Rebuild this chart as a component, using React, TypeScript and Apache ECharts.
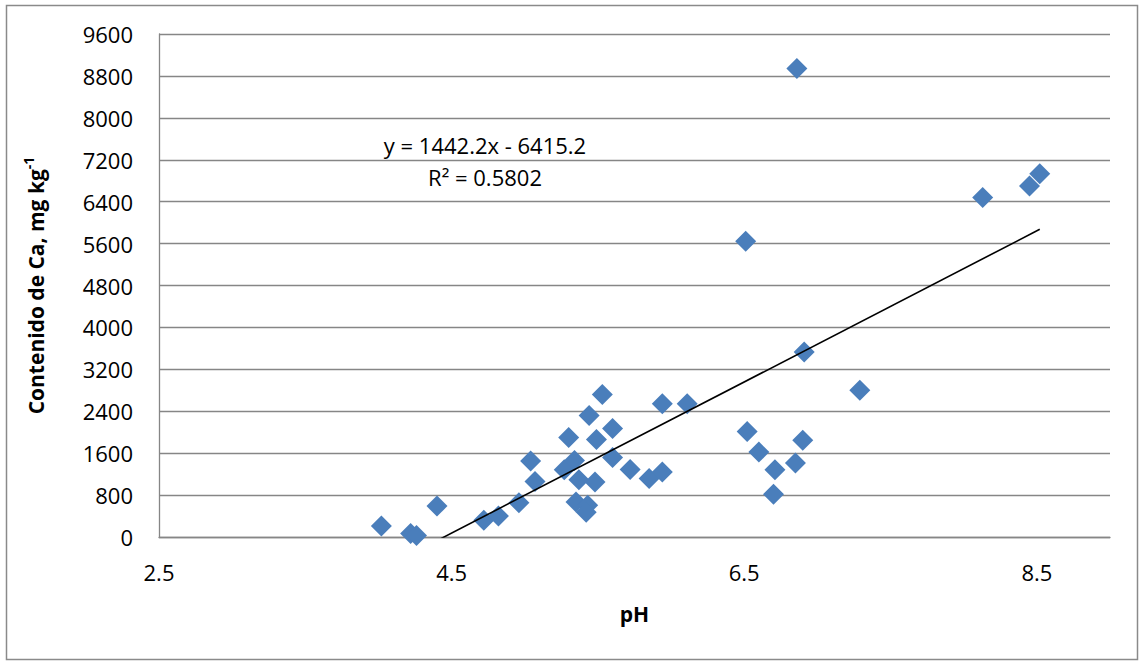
import React, { useEffect, useRef } from "react";
import * as echarts from "echarts";

const xTicks = [2.5, 4.5, 6.5, 8.5];
const yTicksMax = 9600;
const yInterval = 800;

const phValues = [
  4.02, 4.22, 4.26, 4.4, 4.72, 4.82, 4.96, 5.04, 5.07, 5.27,
  5.3, 5.34, 5.37, 5.35, 5.43, 5.42, 5.48, 5.44, 5.49, 5.53,
  5.6, 5.6, 5.72, 5.85, 5.94, 5.94, 6.11, 6.51, 6.52, 6.6,
  6.71, 6.7, 6.85, 6.9, 6.91, 6.86, 7.29, 8.13, 8.45, 8.52,
];
const caValues = [
  210, 65, 30, 590, 320, 400, 655, 1450, 1060, 1285,
  1900, 1460, 1095, 668, 605, 470, 1050, 2320, 1860, 2720,
  2070, 1515, 1290, 1115, 1240, 2545, 2545, 5645, 2015, 1620,
  1285, 815, 1410, 1845, 3530, 8940, 2800, 6480, 6700, 6935,
];

const trendSlope = 1442.2;
const trendIntercept = -6415.2;
const trendR2 = "0.5802";
const equationText = "y = 1442.2x - 6415.2";

const FONT = "'Open Sans', 'Noto Sans', sans-serif";
const GRID_COLOR = "#868686";

export default function App() {
  const ref = useRef<HTMLDivElement>(null);

  useEffect(() => {
    if (!ref.current) return;
    const chart = echarts.init(ref.current, null, { renderer: "svg" });
    const points = phValues.map((x, i) => [x, caValues[i]]);
    const xMinData = Math.min(...phValues);
    const xMaxData = Math.max(...phValues);
    const trend = [
      [xMinData, trendSlope * xMinData + trendIntercept],
      [xMaxData, trendSlope * xMaxData + trendIntercept],
    ];

    chart.setOption({
      animation: false,
      backgroundColor: "#ffffff",
      grid: { left: 159, right: 34, top: 34, bottom: 124, containLabel: false },
      xAxis: {
        type: "value",
        min: 2.5,
        max: 9,
        interval: 2,
        name: "pH",
        nameLocation: "middle",
        nameGap: 66,
        nameTextStyle: { fontFamily: FONT, fontSize: 21, fontWeight: "bold", color: "#000" },
        axisLine: { show: true, lineStyle: { color: GRID_COLOR, width: 1.3 } },
        axisTick: { show: false },
        splitLine: { show: false },
        axisLabel: {
          customValues: xTicks,
          formatter: (v: number) => v.toFixed(1),
          margin: 24,
          fontFamily: FONT,
          fontSize: 22,
          color: "#000",
        },
      },
      yAxis: {
        type: "value",
        min: 0,
        max: yTicksMax,
        interval: yInterval,
        name: "{a|Contenido de Ca, mg kg}{b|-1}",
        nameLocation: "middle",
        nameGap: 108,
        nameRotate: 90,
        nameTextStyle: {
          rich: {
            a: { fontFamily: FONT, fontSize: 21, fontWeight: "bold", color: "#000", lineHeight: 30 },
            b: { fontFamily: FONT, fontSize: 14, fontWeight: "bold", color: "#000", verticalAlign: "top", lineHeight: 30 },
          },
        },
        axisLine: { show: true, lineStyle: { color: GRID_COLOR, width: 1.3 } },
        axisTick: { show: false },
        splitLine: { show: true, lineStyle: { color: GRID_COLOR, width: 1.3 } },
        axisLabel: {
          margin: 26,
          fontFamily: FONT,
          fontSize: 22,
          color: "#000",
          formatter: (v: number) => String(v),
        },
      },
      graphic: [
        {
          type: "rect",
          silent: true,
          shape: { x: 6.5, y: 5.5, width: 1131, height: 654 },
          style: { fill: "none", stroke: "#8a8a8a", lineWidth: 1.5 },
        },
        {
          type: "text",
          x: 485,
          y: 145,
          style: { text: equationText, fontFamily: FONT, fontSize: 22, fill: "#000", textAlign: "center", textVerticalAlign: "middle" },
        },
        {
          type: "text",
          x: 485,
          y: 177,
          style: { text: "R² = " + trendR2, fontFamily: FONT, fontSize: 22, fill: "#000", textAlign: "center", textVerticalAlign: "middle" },
        },
      ],
      series: [
        {
          type: "scatter",
          data: points,
          symbol: "diamond",
          symbolSize: 21,
          itemStyle: { color: "#4a7ebb", opacity: 1 },
          z: 2,
        },
        {
          type: "line",
          data: trend,
          showSymbol: false,
          symbol: "none",
          clip: true,
          lineStyle: { color: "#000", width: 1.6 },
          z: 3,
        },
      ],
    });

    return () => chart.dispose();
  }, []);

  return (
    <div
      ref={ref}
      style={{ position: "absolute", left: 0, top: 0, width: 1144, height: 661, background: "#fff" }}
    />
  );
}
